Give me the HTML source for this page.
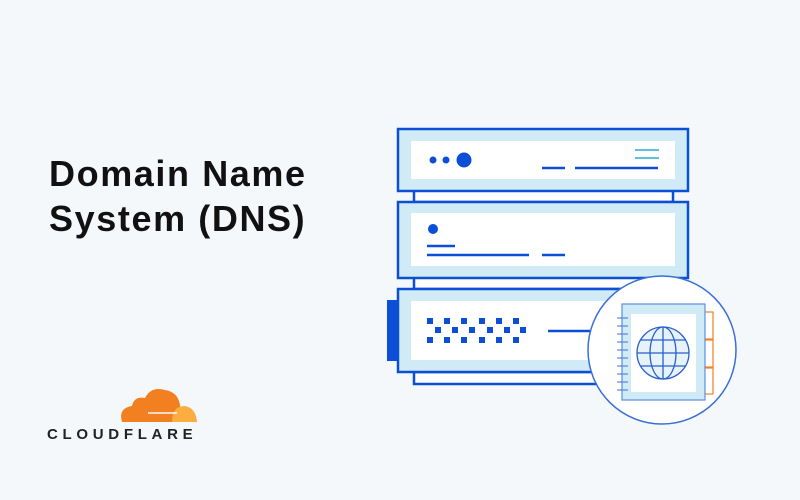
<!DOCTYPE html>
<html><head><style>
body{margin:0;width:800px;height:500px;background:#f5f8fa;overflow:hidden;position:relative;font-family:"Liberation Sans",sans-serif}
.t{position:absolute;left:49px;font-weight:bold;font-size:36px;color:#111;line-height:45px;letter-spacing:1.6px}
.cf{position:absolute;left:47px;top:426px;font-weight:900;font-size:15px;letter-spacing:4.7px;color:#222}
</style></head><body>
<div class="t" style="top:151px">Domain Name<br>System (DNS)</div>
<svg style="position:absolute;left:0;top:0" width="800" height="500">
<g>
<path d="M122 422 Q118 408 132 406 Q134 396 145 398 Q151 386 165 390 Q178 392 180 405 L182 422 Z" fill="#f38020"/>
<path d="M172 422 Q172 406 185 406 Q196 408 197 422 Z" fill="#faae40"/>
<line x1="148" y1="413" x2="177" y2="413" stroke="#f5f8fa" stroke-width="1.5"/>
</g>
<g fill="#d0ebf5" stroke="#0a4fd6" stroke-width="2.5">
<rect x="414" y="372" width="259" height="12" fill="#fff"/>
<rect x="414" y="190" width="259" height="12" fill="#fff"/>
<rect x="414" y="277" width="259" height="12" fill="#fff"/>
<rect x="398" y="129" width="290" height="62"/>
<rect x="398" y="202" width="290" height="76"/>
<rect x="398" y="289" width="290" height="83"/>
</g>
<rect x="387" y="300" width="12" height="61" fill="#0a4fd6"/>
<g fill="#fff"><rect x="411" y="141" width="264" height="38"/><rect x="411" y="213" width="264" height="53"/><rect x="411" y="301" width="264" height="59"/></g>
<g fill="#0a4fd6"><circle cx="433" cy="160" r="3.5"/><circle cx="446" cy="160" r="3.5"/><circle cx="464" cy="160" r="7.5"/><circle cx="433" cy="229" r="5"/></g>
<g stroke="#0a4fd6" stroke-width="2.5"><line x1="542" y1="168" x2="565" y2="168"/><line x1="575" y1="168" x2="658" y2="168"/>
<line x1="427" y1="246" x2="455" y2="246"/><line x1="427" y1="255" x2="529" y2="255"/><line x1="542" y1="255" x2="565" y2="255"/>
<line x1="548" y1="331" x2="600" y2="331"/></g>
<g stroke="#5fc0dc" stroke-width="2"><line x1="635" y1="150" x2="659" y2="150"/><line x1="635" y1="158" x2="659" y2="158"/></g>
<g fill="#0a4fd6">
<rect x="427" y="318" width="6" height="6"/><rect x="444" y="318" width="6" height="6"/><rect x="461" y="318" width="6" height="6"/><rect x="479" y="318" width="6" height="6"/><rect x="496" y="318" width="6" height="6"/><rect x="513" y="318" width="6" height="6"/>
<rect x="435" y="327" width="6" height="6"/><rect x="452" y="327" width="6" height="6"/><rect x="469" y="327" width="6" height="6"/><rect x="487" y="327" width="6" height="6"/><rect x="504" y="327" width="6" height="6"/><rect x="520" y="327" width="6" height="6"/>
<rect x="427" y="337" width="6" height="6"/><rect x="444" y="337" width="6" height="6"/><rect x="461" y="337" width="6" height="6"/><rect x="479" y="337" width="6" height="6"/><rect x="496" y="337" width="6" height="6"/><rect x="513" y="337" width="6" height="6"/>
</g>
<circle cx="662" cy="350" r="74" fill="#fff" stroke="#3a6fd8" stroke-width="1.5"/>
<g fill="#fff" stroke="#f38020" stroke-width="1.2"><rect x="704" y="312" width="9" height="27"/><rect x="704" y="340" width="9" height="27"/><rect x="704" y="368" width="9" height="26"/></g>
<rect x="622" y="304" width="83" height="96" fill="#d0ebf5" stroke="#5b8ee0" stroke-width="1.2"/>
<rect x="631" y="314" width="65" height="78" fill="#fff"/>
<g stroke="#3a6fd8" stroke-width="1">
<line x1="617" y1="318" x2="628" y2="318"/><line x1="617" y1="326" x2="628" y2="326"/><line x1="617" y1="334" x2="628" y2="334"/><line x1="617" y1="342" x2="628" y2="342"/><line x1="617" y1="350" x2="628" y2="350"/><line x1="617" y1="358" x2="628" y2="358"/><line x1="617" y1="366" x2="628" y2="366"/><line x1="617" y1="374" x2="628" y2="374"/><line x1="617" y1="382" x2="628" y2="382"/><line x1="617" y1="390" x2="628" y2="390"/>
</g>
<g stroke="#2a5fcf" stroke-width="1.3" fill="none">
<circle cx="663" cy="353" r="26" fill="#e6f3fa"/>
<ellipse cx="663" cy="353" rx="13" ry="26"/>
<line x1="663" y1="327" x2="663" y2="379"/><line x1="637" y1="353" x2="689" y2="353"/>
<line x1="641" y1="340" x2="685" y2="340"/><line x1="641" y1="366" x2="685" y2="366"/>
</g>
</svg>
<div class="cf">CLOUDFLARE</div>
</body></html>
